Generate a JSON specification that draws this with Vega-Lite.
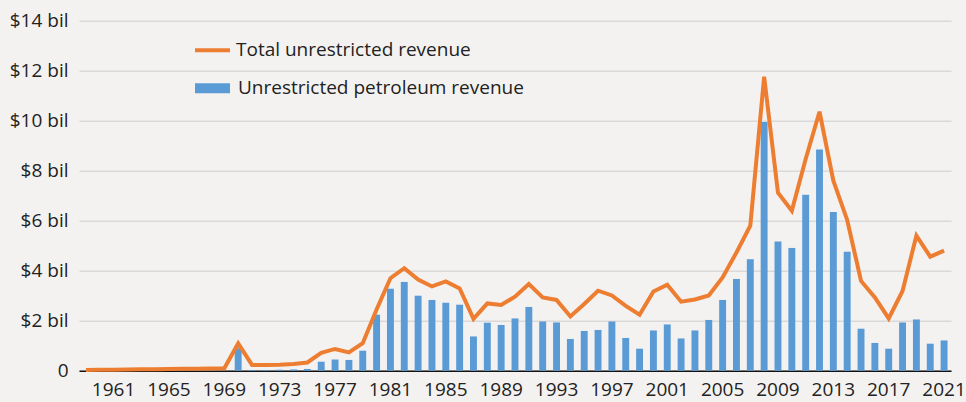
{
  "$schema": "https://vega.github.io/schema/vega-lite/v6.json",
  "width": 872,
  "height": 350,
  "autosize": {"type": "none"},
  "padding": {"left": 79, "top": 20.7, "right": 15, "bottom": 31.3},
  "background": "#f4f2f1",
  "config": {
    "view": {"stroke": null},
    "font": "Open Sans",
    "axis": {"labelFont": "Open Sans", "labelFontSize": 19, "labelColor": "#222222"},
    "legend": {"labelFont": "Open Sans", "labelFontSize": 19, "labelColor": "#222222", "padding": 0, "offset": 0, "labelLimit": 0}
  },
  "data": {
    "values": [
      {"year": 1959, "total": 0.03, "petroleum": 0},
      {"year": 1960, "total": 0.035, "petroleum": 0},
      {"year": 1961, "total": 0.04, "petroleum": 0},
      {"year": 1962, "total": 0.05, "petroleum": 0},
      {"year": 1963, "total": 0.055, "petroleum": 0},
      {"year": 1964, "total": 0.06, "petroleum": 0},
      {"year": 1965, "total": 0.07, "petroleum": 0},
      {"year": 1966, "total": 0.075, "petroleum": 0},
      {"year": 1967, "total": 0.08, "petroleum": 0},
      {"year": 1968, "total": 0.09, "petroleum": 0},
      {"year": 1969, "total": 0.1, "petroleum": 0},
      {"year": 1970, "total": 1.09, "petroleum": 0.9},
      {"year": 1971, "total": 0.23, "petroleum": 0.03},
      {"year": 1972, "total": 0.23, "petroleum": 0.03},
      {"year": 1973, "total": 0.24, "petroleum": 0.04},
      {"year": 1974, "total": 0.27, "petroleum": 0.05},
      {"year": 1975, "total": 0.33, "petroleum": 0.07},
      {"year": 1976, "total": 0.71, "petroleum": 0.36},
      {"year": 1977, "total": 0.87, "petroleum": 0.45},
      {"year": 1978, "total": 0.73, "petroleum": 0.43},
      {"year": 1979, "total": 1.1, "petroleum": 0.8},
      {"year": 1980, "total": 2.45, "petroleum": 2.24},
      {"year": 1981, "total": 3.7, "petroleum": 3.28},
      {"year": 1982, "total": 4.1, "petroleum": 3.55},
      {"year": 1983, "total": 3.65, "petroleum": 3.0},
      {"year": 1984, "total": 3.37, "petroleum": 2.83},
      {"year": 1985, "total": 3.57, "petroleum": 2.72},
      {"year": 1986, "total": 3.29, "petroleum": 2.64},
      {"year": 1987, "total": 2.07, "petroleum": 1.37},
      {"year": 1988, "total": 2.69, "petroleum": 1.92},
      {"year": 1989, "total": 2.63, "petroleum": 1.83},
      {"year": 1990, "total": 2.96, "petroleum": 2.09},
      {"year": 1991, "total": 3.47, "petroleum": 2.55},
      {"year": 1992, "total": 2.93, "petroleum": 1.97},
      {"year": 1993, "total": 2.83, "petroleum": 1.93},
      {"year": 1994, "total": 2.17, "petroleum": 1.27},
      {"year": 1995, "total": 2.67, "petroleum": 1.59},
      {"year": 1996, "total": 3.2, "petroleum": 1.63},
      {"year": 1997, "total": 3.01, "petroleum": 1.97},
      {"year": 1998, "total": 2.59, "petroleum": 1.31},
      {"year": 1999, "total": 2.24, "petroleum": 0.88},
      {"year": 2000, "total": 3.17, "petroleum": 1.61},
      {"year": 2001, "total": 3.44, "petroleum": 1.85},
      {"year": 2002, "total": 2.76, "petroleum": 1.29},
      {"year": 2003, "total": 2.85, "petroleum": 1.61},
      {"year": 2004, "total": 3.01, "petroleum": 2.03},
      {"year": 2005, "total": 3.73, "petroleum": 2.83},
      {"year": 2006, "total": 4.73, "petroleum": 3.67},
      {"year": 2007, "total": 5.8, "petroleum": 4.46},
      {"year": 2008, "total": 11.76, "petroleum": 9.95},
      {"year": 2009, "total": 7.12, "petroleum": 5.17},
      {"year": 2010, "total": 6.4, "petroleum": 4.91},
      {"year": 2011, "total": 8.47, "petroleum": 7.04},
      {"year": 2012, "total": 10.36, "petroleum": 8.85},
      {"year": 2013, "total": 7.6, "petroleum": 6.35},
      {"year": 2014, "total": 6.03, "petroleum": 4.76},
      {"year": 2015, "total": 3.59, "petroleum": 1.68},
      {"year": 2016, "total": 2.93, "petroleum": 1.11},
      {"year": 2017, "total": 2.09, "petroleum": 0.88},
      {"year": 2018, "total": 3.19, "petroleum": 1.93},
      {"year": 2019, "total": 5.4, "petroleum": 2.05},
      {"year": 2020, "total": 4.56, "petroleum": 1.08},
      {"year": 2021, "total": 4.8, "petroleum": 1.21}
    ]
  },
  "encoding": {
    "x": {
      "field": "year",
      "type": "ordinal",
      "scale": {"paddingInner": 0.5, "paddingOuter": 0.25},
      "axis": {
        "title": null,
        "values": [1961, 1965, 1969, 1973, 1977, 1981, 1985, 1989, 1993, 1997, 2001, 2005, 2009, 2013, 2017, 2021],
        "labelAngle": 0,
        "ticks": false,
        "domain": true,
        "domainColor": "#111111",
        "domainWidth": 1.6,
        "labelPadding": 10,
        "grid": false
      }
    }
  },
  "layer": [
    {
      "mark": {"type": "bar"},
      "encoding": {
        "y": {
          "field": "petroleum",
          "type": "quantitative",
          "scale": {"domain": [0, 14]},
          "axis": {
            "title": null,
            "values": [0, 2, 4, 6, 8, 10, 12, 14],
            "labelExpr": "datum.value == 0 ? '0' : '$' + datum.value + ' bil'",
            "domain": false,
            "ticks": false,
            "grid": true,
            "gridColor": "#d9d9d9",
            "gridWidth": 1.4,
            "labelPadding": 11
          }
        },
        "fill": {
          "datum": "Unrestricted petroleum revenue",
          "scale": {"range": ["#5b9bd5"]},
          "legend": {
            "title": null,
            "orient": "none",
            "legendX": 116,
            "legendY": 50,
            "symbolType": "M-1,-0.29H1V0.29H-1Z",
            "symbolSize": 1225,
            "symbolStrokeWidth": 0,
            "labelOffset": 8
          }
        }
      }
    },
    {
      "mark": {"type": "line", "strokeWidth": 4, "strokeJoin": "miter"},
      "encoding": {
        "y": {"field": "total", "type": "quantitative"},
        "stroke": {
          "datum": "Total unrestricted revenue",
          "scale": {"range": ["#ed7d31"]},
          "legend": {
            "title": null,
            "orient": "none",
            "legendX": 114,
            "legendY": 10,
            "symbolType": "stroke",
            "symbolSize": 1225,
            "symbolStrokeWidth": 4,
            "labelOffset": 4
          }
        }
      }
    }
  ]
}
